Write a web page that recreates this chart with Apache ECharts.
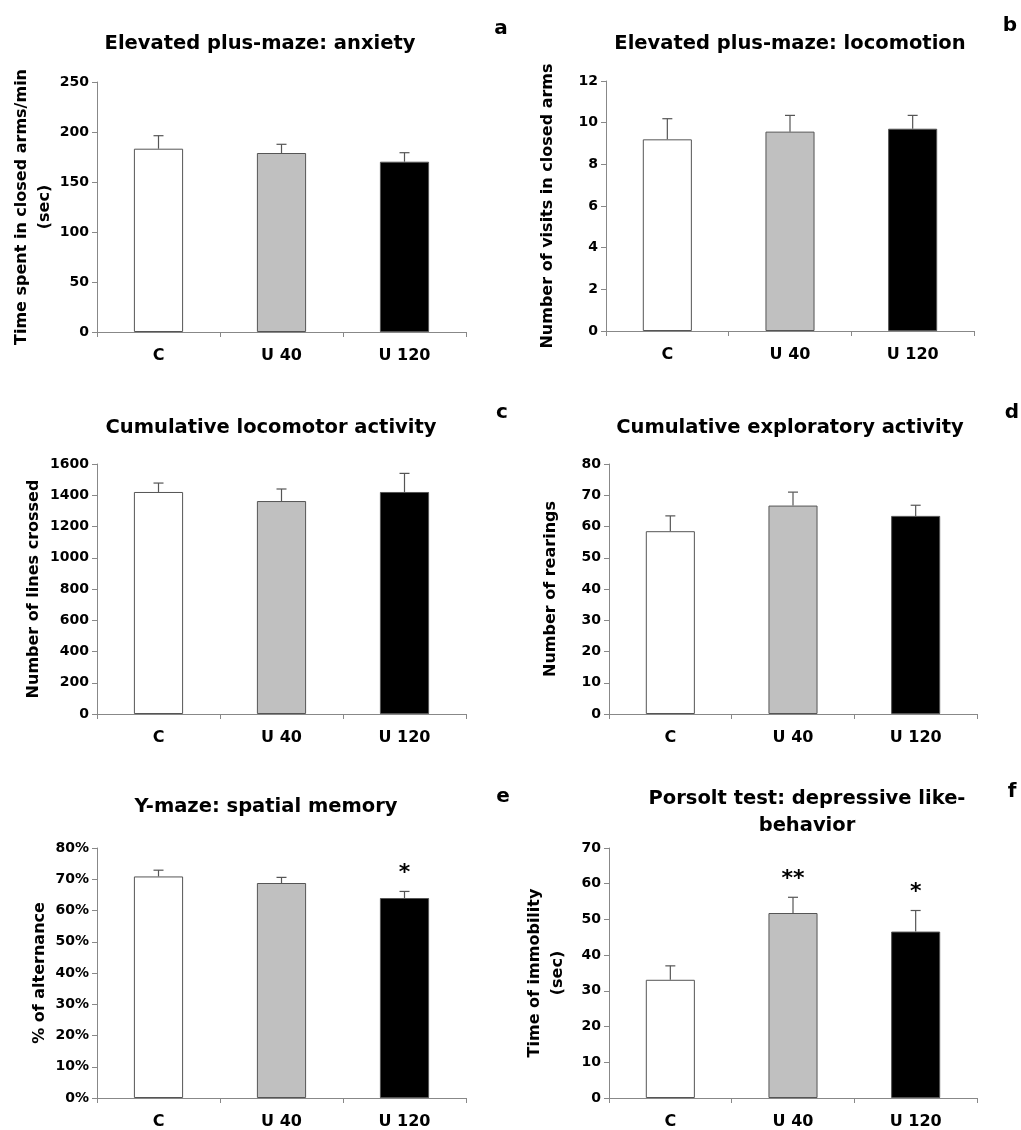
<!DOCTYPE html>
<html><head><meta charset="utf-8">
<script src="https://cdn.jsdelivr.net/npm/echarts@6/dist/echarts.min.js"></script>
<style>html,body{margin:0;padding:0;background:#fff}#c{width:1021px;height:1130px}</style>
</head><body><div id="c"></div>
<script>
const categories = ['C', 'U 40', 'U 120'];
const barColors = ['#ffffff', '#c0c0c0', '#000000'];

const aMeans = [183.3, 179.0, 170.3];
const aErrs = [13.0, 8.7, 9.0];
const bMeans = [9.2, 9.57, 9.71];
const bErrs = [0.99, 0.78, 0.64];
const cMeans = [1421, 1363, 1421];
const cErrs = [57, 77, 119];
const dMeans = [58.5, 66.7, 63.4];
const dErrs = [4.9, 4.3, 3.4];
const eMeans = [70.9, 68.8, 64.0];
const eErrs = [2.0, 1.8, 2.1];
const fMeans = [33.1, 51.8, 46.6];
const fErrs = [3.9, 4.4, 5.9];
const eSig = ['', '', '*'];
const fSig = ['', '**', '*'];

const titles = ['Elevated plus-maze: anxiety', 'Elevated plus-maze: locomotion',
  'Cumulative locomotor activity', 'Cumulative exploratory activity',
  'Y-maze: spatial memory', 'Porsolt test: depressive like-\nbehavior'];
const letters = ['a', 'b', 'c', 'd', 'e', 'f'];
const yNames = ['Time spent in closed arms/min\n(sec)', 'Number of visits in closed arms',
  'Number of lines crossed', 'Number of rearings', '% of alternance', 'Time of immobility\n(sec)'];
const yMax = [250, 12, 1600, 80, 80, 70];
const yStep = [50, 2, 200, 10, 10, 10];

const panels = [
  {m: aMeans, e: aErrs, s: null},
  {m: bMeans, e: bErrs, s: null},
  {m: cMeans, e: cErrs, s: null},
  {m: dMeans, e: dErrs, s: null},
  {m: eMeans, e: eErrs, s: eSig},
  {m: fMeans, e: fErrs, s: fSig}
];

const FONT = 'DejaVu Sans';
const gridPos = [
  {left: 97, top: 82, width: 369, height: 250},
  {left: 606, top: 81, width: 368, height: 250},
  {left: 97, top: 464, width: 369, height: 250},
  {left: 609, top: 464, width: 368, height: 250},
  {left: 97, top: 848, width: 369, height: 250},
  {left: 609, top: 848, width: 368, height: 250}
];
const titlePos = [[255, 25], [785, 25], [266, 409], [785, 409], [261, 788], [802, 780]];
const letterPos = [[496, 14], [1005, 11], [497, 398], [1007, 398], [498, 782], [1007, 777]];
const yNameGap = [40, 47, 52, 47, 42, 40];

const grid = [], xAxis = [], yAxis = [], series = [], title = [];
panels.forEach((p, k) => {
  grid.push(Object.assign({outerBoundsMode: 'none', containLabel: false}, gridPos[k]));
  xAxis.push({
    type: 'category', gridIndex: k, data: categories,
    axisLine: {lineStyle: {color: '#888', width: 1}},
    axisTick: {show: true, length: 5, lineStyle: {color: '#888'}},
    axisLabel: {color: '#000', fontFamily: FONT, fontWeight: 'bold', fontSize: 16, margin: 16}
  });
  yAxis.push({
    type: 'value', gridIndex: k, min: 0, max: yMax[k], interval: yStep[k],
    name: yNames[k], nameLocation: 'middle', nameGap: yNameGap[k], nameRotate: 90,
    nameTextStyle: {color: '#000', fontFamily: FONT, fontWeight: 'bold', fontSize: 16, lineHeight: 23},
    axisLine: {show: true, lineStyle: {color: '#888', width: 1}},
    axisTick: {show: true, length: 5, lineStyle: {color: '#888'}},
    splitLine: {show: false},
    axisLabel: {color: '#000', fontFamily: FONT, fontWeight: 'bold', fontSize: 14, margin: 8,
      formatter: k === 4 ? (v => v + '%') : (v => String(v))}
  });
  title.push({
    text: titles[k], left: titlePos[k][0], top: titlePos[k][1], textAlign: 'center',
    textStyle: {color: '#000', fontFamily: FONT, fontWeight: 'bold', fontSize: 19.5, lineHeight: 27.5}
  });
  title.push({
    text: letters[k], left: letterPos[k][0], top: letterPos[k][1], textAlign: 'center',
    textStyle: {color: '#000', fontFamily: FONT, fontWeight: 'bold', fontSize: 20}
  });
  series.push({
    type: 'bar', xAxisIndex: k, yAxisIndex: k, barWidth: '40%',
    data: p.m.map((v, i) => ({value: v, itemStyle: {color: barColors[i]}})),
    itemStyle: {borderColor: '#555', borderWidth: 1},
    animation: false, silent: true
  });
  series.push({
    type: 'custom', xAxisIndex: k, yAxisIndex: k, z: 5, animation: false, silent: true,
    data: p.m.map((v, i) => [i, v, v + p.e[i]]),
    renderItem: function (params, api) {
      const base = api.coord([api.value(0), api.value(1)]);
      const top = api.coord([api.value(0), api.value(2)]);
      const children = [
        {type: 'line', shape: {x1: base[0], y1: base[1], x2: top[0], y2: top[1]}, style: {stroke: '#555', lineWidth: 1.2}},
        {type: 'line', shape: {x1: top[0] - 5, y1: top[1], x2: top[0] + 5, y2: top[1]}, style: {stroke: '#555', lineWidth: 1.2}}
      ];
      const s = p.s ? p.s[params.dataIndex] : '';
      if (s) {
        children.push({type: 'text', x: top[0], y: top[1] - 7,
          style: {text: s, fill: '#000', font: 'bold 22px ' + FONT, align: 'center', verticalAlign: 'bottom'}});
      }
      return {type: 'group', children: children};
    }
  });
});

const chart = echarts.init(document.getElementById('c'));
chart.setOption({backgroundColor: '#fff', animation: false, title, grid, xAxis, yAxis, series});
</script>
</body></html>
